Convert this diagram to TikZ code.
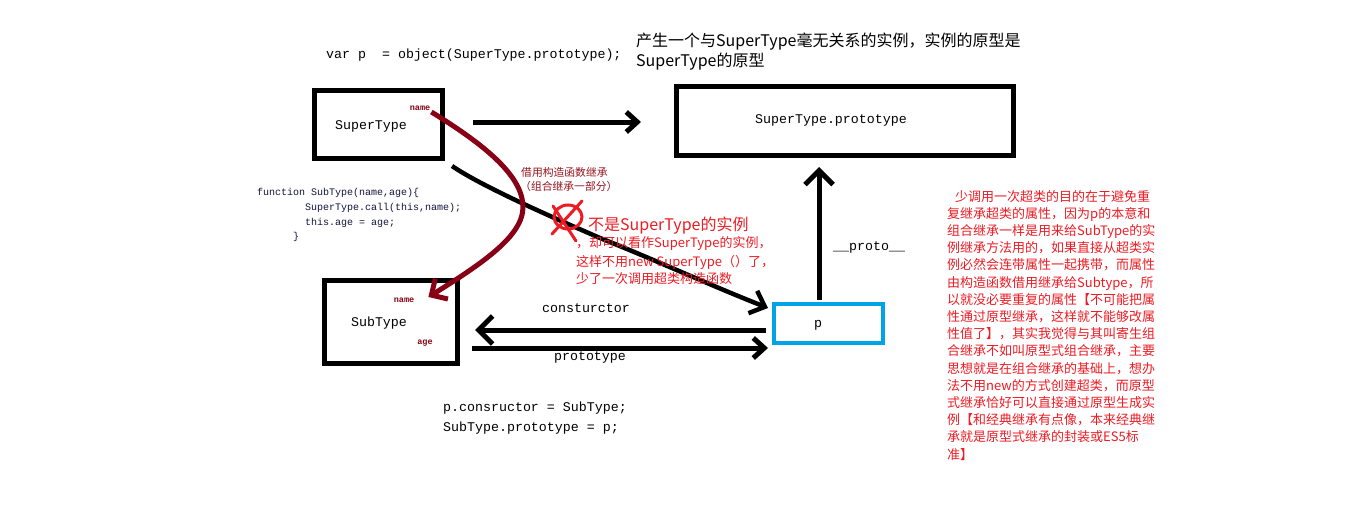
\documentclass[tikz,border=0pt]{standalone}
\usepackage{fontspec}
\setmonofont{Liberation Mono}
\newfontfamily\cjk{Noto Sans CJK SC}
\usetikzlibrary{arrows.meta,calc}
\definecolor{redtxt}{RGB}{237,28,36}
\definecolor{darkred}{RGB}{136,0,21}
\definecolor{brn}{RGB}{150,20,30}
\definecolor{navy}{RGB}{20,20,60}
\definecolor{pblue}{RGB}{0,162,232}
\begin{document}
\begin{tikzpicture}[x=1pt,y=-1pt,
  box/.style={draw, line width=5pt, inner sep=0pt},
  mono/.style={inner sep=0pt, font=\ttfamily\fontsize{13.3}{16}\selectfont},
  tiny/.style={inner sep=0pt, text=darkred, font=\ttfamily\bfseries\fontsize{8.5}{10}\selectfont},
  code/.style={inner sep=0pt, anchor=west, text=navy, font=\ttfamily\fontsize{10}{12}\selectfont},
  redt/.style={inner sep=0pt, anchor=west, text=redtxt, font=\cjk\fontsize{13}{16}\selectfont},
  arr/.style={line width=5pt, -{Straight Barb[length=11pt,width=20pt]}},
  bigarr/.style={line width=5pt, -{Straight Barb[length=14pt,width=28pt]}},
  curvearr/.style={line width=4.5pt, -{Straight Barb[length=13pt,width=24pt]}},
  redarr/.style={line width=5pt, draw=darkred, -{Straight Barb[length=12pt,width=24pt]}}
]
\useasboundingbox[fill=white] (0,0) rectangle (1360,527);

% boxes
\node[box, minimum width=128pt, minimum height=68pt] (st) at (378.5,124.5) {};
\node[box, minimum width=337pt, minimum height=69pt] (stp) at (845,121) {};
\node[box, minimum width=133pt, minimum height=83pt] (sub) at (391,322) {};
\node[box, draw=pblue, line width=4pt, minimum width=109pt, minimum height=39pt] (p) at (828.5,323.5) {};

% box labels
\node[mono] (stl) at (371,126) {SuperType};
\node[tiny] (stn) at (420,108) {name};
\node[mono] (stpl) at (831,120) {SuperType.prototype};
\node[mono] (subl) at (379,323) {SubType};
\node[tiny] (subn) at (404,300) {name};
\node[tiny] (suba) at (425,343) {age};
\node[mono] (pl) at (818,325) {p};

% connectors
\draw[arr, shorten <=28pt, shorten >=33pt] ([yshift=2.5pt]st.east) -- ([yshift=2.5pt]st.east -| stp.west);
\draw[bigarr, shorten <=6pt, shorten >=15pt] ([yshift=-6.5pt]p.west) -- ([yshift=-6.5pt]p.west -| sub.east);
\draw[arr, shorten <=12pt, shorten >=4pt] ([yshift=-24.5pt]p.west -| sub.east) -- ([yshift=-24.5pt]p.west);
\draw[bigarr, shorten <=2pt, shorten >=9pt] ([xshift=-9.5pt]p.north) -- ([xshift=-9.5pt]p.north |- stp.south);

\node[mono] (lcons) at (586,308) {consturctor};
\node[mono] (lprot) at (590,357) {prototype};
\node[mono, anchor=west] (lproto) at (833,247) {\_\_proto\_\_};

% black curve SuperType -> p
\draw[curvearr] ($(st.south east)+(7,5)$) .. controls (480,185) and (540,212) .. (600,238)
  .. controls (660,262) and (712,286) .. ($(p.north west)+(-4,6)$);

% dark red curve name -> name
\draw[redarr] ($(stn.east)+(1,4)$) .. controls (485,145) and (530,180) .. (522,215)
  .. controls (516,240) and (480,265) .. ($(subn.east)+(14,-3)$);

% labels of red curve
\node[inner sep=0pt, anchor=west, text=brn, font=\cjk\fontsize{10.8}{13}\selectfont] (bor1) at (521,172) {借用构造函数继承};
\node[inner sep=0pt, anchor=west, text=brn, font=\cjk\fontsize{10.8}{13}\selectfont] (bor2) at (520,186) {（组合继承一部分）};

% red scribble
\draw[redtxt, line width=3pt] (568,217) ellipse [x radius=14pt, y radius=12pt];
\draw[redtxt, line width=3pt, line cap=round] (582,201) -- (552,234);
\draw[redtxt, line width=3pt, line cap=round] (553,206) -- (576,241);

% red notes
\node[redt, font=\cjk\fontsize{16}{18}\selectfont] (n1) at (588,226) {不是SuperType的实例};
\node[redt] (n2) at (576,244) {，却可以看作SuperType的实例，};
\node[redt] (n3) at (576,262) {这样不用new SuperType（）了，};
\node[redt] (n4) at (576,279) {少了一次调用超类构造函数};

% code
\node[code] (c1) at (257,193) {function SubType(name,age)\{};
\node[code] (c2) at (305,208) {SuperType.call(this,name);};
\node[code] (c3) at (305,223) {this.age = age;};
\node[code] (c4) at (293,237) {\}};

\node[mono, anchor=west] (top) at (326,55) {var p\ \ = object(SuperType.prototype);};
\node[mono, anchor=west] (b1) at (443,408) {p.consructor = SubType;};
\node[mono, anchor=west] (b2) at (443,428) {SubType.prototype = p;};

% title
\node[inner sep=0pt, anchor=north west, align=left, font=\cjk\fontsize{16}{20}\selectfont] (title) at (636,33)
  {产生一个与SuperType毫无关系的实例，实例的原型是\\SuperType的原型};

% right block
\node[inner sep=0pt, anchor=north west, align=left, text=redtxt, font=\cjk\fontsize{13}{17.2}\selectfont] (blk) at (947,190)
  {\hspace*{8pt}少调用一次超类的目的在于避免重\\
   复继承超类的属性，因为p的本意和\\
   组合继承一样是用来给SubType的实\\
   例继承方法用的，如果直接从超类实\\
   例必然会连带属性一起携带，而属性\\
   由构造函数借用继承给Subtype，所\\
   以就没必要重复的属性【不可能把属\\
   性通过原型继承，这样就不能够改属\\
   性值了】，其实我觉得与其叫寄生组\\
   合继承不如叫原型式组合继承，主要\\
   思想就是在组合继承的基础上，想办\\
   法不用new的方式创建超类，而原型\\
   式继承恰好可以直接通过原型生成实\\
   例【和经典继承有点像，本来经典继\\
   承就是原型式继承的封装或ES5标\\
   准】};
\end{tikzpicture}
\end{document}
